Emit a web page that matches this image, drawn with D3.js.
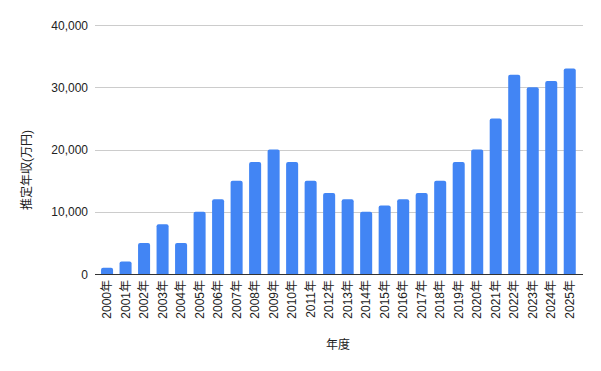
<!DOCTYPE html>
<html><head><meta charset="utf-8">
<script src="https://cdn.jsdelivr.net/npm/d3@7"></script>
<style>body{margin:0;background:#fff}svg{display:block}text{font-family:Arial,"Liberation Sans","Noto Sans CJK JP",sans-serif}</style>
</head><body>
<svg id="c" width="601" height="371"></svg>
<script>
const years = ["2000年","2001年","2002年","2003年","2004年","2005年","2006年","2007年","2008年","2009年","2010年","2011年","2012年","2013年","2014年","2015年","2016年","2017年","2018年","2019年","2020年","2021年","2022年","2023年","2024年","2025年"];
const income = [1000,2000,5000,8000,5000,10000,12000,15000,18000,20000,18000,15000,13000,12000,10000,11000,12000,13000,15000,18000,20000,25000,32000,30000,31000,33000];
const yTicks = [0,10000,20000,30000,40000];

const svg = d3.select("#c");
const x = d3.scaleBand().domain(years).range([97.8, 579]).paddingInner(0.35).paddingOuter(0.175);
const y = d3.scaleLinear().domain([0,40000]).range([274,25]);

// gridlines
svg.append("g").selectAll("line").data(yTicks.slice(1)).join("line")
  .attr("x1",95).attr("x2",583)
  .attr("y1",d=>Math.round(y(d))+0.5).attr("y2",d=>Math.round(y(d))+0.5)
  .attr("stroke","#cccccc").attr("stroke-width",1);

// y labels
svg.append("g").selectAll("text").data(yTicks).join("text")
  .attr("x",88).attr("y",d=>y(d)+4.5)
  .attr("text-anchor","end").attr("font-size",12).attr("fill","#222")
  .text(d3.format(","));

// bars with rounded top
const r = 2;
svg.append("g").selectAll("path").data(income).join("path")
  .attr("fill","#4285f4")
  .attr("d",(d,i)=>{
    const x0 = x(years[i]), w = x.bandwidth(), y0 = y(d), yb = y(0);
    return `M${x0},${yb}V${y0+r}Q${x0},${y0} ${x0+r},${y0}H${x0+w-r}Q${x0+w},${y0} ${x0+w},${y0+r}V${yb}Z`;
  });

// baseline
svg.append("line").attr("x1",95).attr("x2",583).attr("y1",274.5).attr("y2",274.5)
  .attr("stroke","#333").attr("stroke-width",1);

// x labels
svg.append("g").selectAll("text").data(years).join("text")
  .attr("transform",d=>`translate(${x(d)+x.bandwidth()/2+4},280) rotate(-90)`)
  .attr("text-anchor","end").attr("font-size",12).attr("fill","#222")
  .text(d=>d);

// axis titles
svg.append("text").attr("x",338).attr("y",349).attr("text-anchor","middle")
  .attr("font-size",12).attr("fill","#222").text("年度");
svg.append("text").attr("transform","translate(31,170) rotate(-90)").attr("text-anchor","middle")
  .attr("font-size",12).attr("fill","#222").text("推定年収(万円)");
</script>
</body></html>
